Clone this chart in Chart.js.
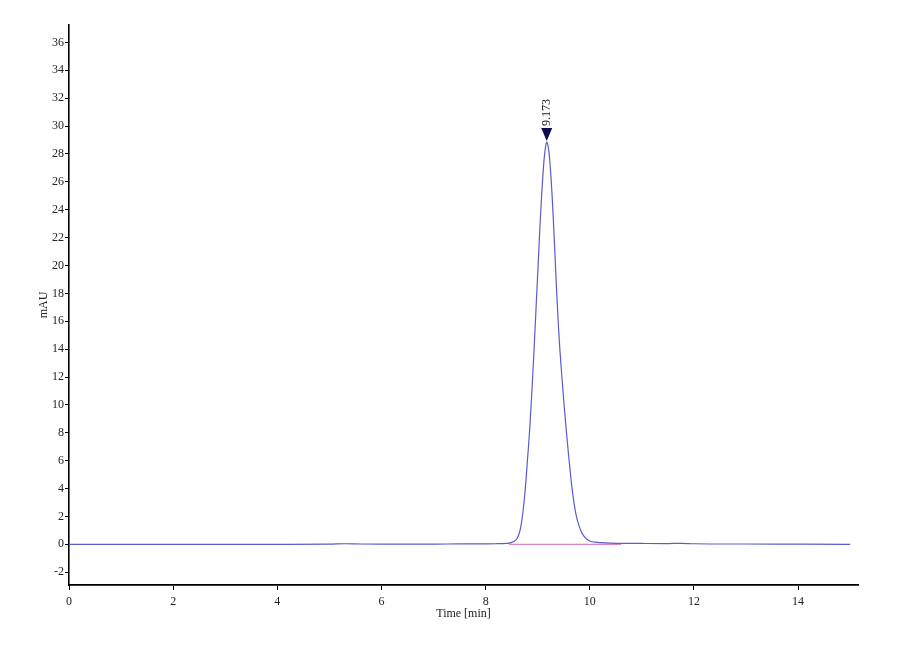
<!DOCTYPE html>
<html>
<head>
<meta charset="utf-8">
<script src="https://cdn.jsdelivr.net/npm/chart.js@4/dist/chart.umd.min.js"></script>
<style>
  html, body { margin: 0; padding: 0; background: #ffffff; }
  #wrap { width: 900px; height: 660px; position: relative; }
</style>
</head>
<body>
<div id="wrap"><canvas id="c"></canvas></div>
<script>
// Retention time (min) and signal (mAU)
const times = [0, 1, 2, 3, 4, 5, 5.3, 5.6, 6, 7, 7.5, 8, 8.2, 8.4, 8.45, 8.5, 8.55, 8.6, 8.625, 8.65, 8.675, 8.7, 8.725, 8.75, 8.775, 8.8, 8.825, 8.85, 8.875, 8.9, 8.925, 8.95, 8.975, 9.0, 9.025, 9.05, 9.075, 9.1, 9.125, 9.15, 9.173, 9.2, 9.225, 9.25, 9.275, 9.3, 9.325, 9.35, 9.375, 9.4, 9.425, 9.45, 9.475, 9.5, 9.525, 9.55, 9.575, 9.6, 9.625, 9.65, 9.675, 9.7, 9.725, 9.75, 9.775, 9.8, 9.825, 9.85, 9.875, 9.9, 9.95, 10.0, 10.05, 10.1, 10.2, 10.4, 10.7, 11.0, 11.5, 11.75, 12.0, 13.0, 14.0, 15.0];
const signal = [0, 0, 0, 0, 0, 0.01, 0.04, 0.02, 0.01, 0.01, 0.03, 0.03, 0.04, 0.07, 0.09, 0.14, 0.22, 0.40, 0.58, 0.85, 1.25, 1.85, 2.6, 3.5, 4.6, 5.9, 7.1, 8.5, 10.1, 11.8, 13.6, 15.5, 17.5, 19.4, 21.4, 23.3, 25.0, 26.5, 27.7, 28.5, 28.85, 28.55, 27.8, 26.6, 25.1, 23.3, 21.3, 19.2, 17.3, 15.5, 14.0, 12.7, 11.5, 10.3, 9.2, 8.1, 7.1, 6.1, 5.2, 4.3, 3.55, 2.9, 2.35, 1.9, 1.55, 1.25, 1.0, 0.8, 0.65, 0.53, 0.35, 0.24, 0.18, 0.15, 0.12, 0.09, 0.07, 0.06, 0.05, 0.07, 0.04, 0.02, 0.01, 0];

// Integration baseline under the peak
const baselineTimes = [8.45, 10.6];
const baselineValues = [0, 0];

// Peak annotation
const peakTimes = [9.173];
const peakValues = [28.85];
const peakLabels = ['9.173'];

// Axis ticks
const xTicks = [0, 2, 4, 6, 8, 10, 12, 14];
const yTicks = [-2, 0, 2, 4, 6, 8, 10, 12, 14, 16, 18, 20, 22, 24, 26, 28, 30, 32, 34, 36];

const traceData = times.map((t, i) => ({ x: t, y: signal[i] }));
const baseData = baselineTimes.map((t, i) => ({ x: t, y: baselineValues[i] }));

const serif = "'Liberation Serif', 'DejaVu Serif', serif";

const peakPlugin = {
  id: 'peakMarks',
  afterDatasetsDraw(chart) {
    const ctx = chart.ctx;
    const xs = chart.scales.x, ys = chart.scales.y;
    peakTimes.forEach((t, i) => {
      const px = xs.getPixelForValue(t);
      const py = ys.getPixelForValue(peakValues[i]);
      const tipY = py - 1;
      ctx.save();
      ctx.fillStyle = '#0b0b4e';
      ctx.beginPath();
      ctx.moveTo(px - 5.5, tipY - 13);
      ctx.lineTo(px + 5.5, tipY - 13);
      ctx.lineTo(px, tipY);
      ctx.closePath();
      ctx.fill();
      ctx.translate(px, tipY - 15);
      ctx.rotate(-Math.PI / 2);
      ctx.fillStyle = '#222222';
      ctx.font = "12px " + serif;
      ctx.textAlign = 'left';
      ctx.textBaseline = 'middle';
      ctx.fillText(peakLabels[i], 0, 0);
      ctx.restore();
    });
  }
};

new Chart(document.getElementById('c'), {
  type: 'line',
  data: {
    datasets: [
      {
        data: baseData,
        borderColor: '#d46cb4',
        borderWidth: 1,
        pointRadius: 0,
        tension: 0,
        order: 2
      },
      {
        data: traceData,
        borderColor: '#5b5bcf',
        borderWidth: 1.2,
        pointRadius: 0,
        cubicInterpolationMode: 'monotone',
        order: 1
      }
    ]
  },
  options: {
    responsive: true,
    maintainAspectRatio: false,
    animation: false,
    devicePixelRatio: 1,
    layout: { padding: { left: 0, right: 42, top: 25, bottom: 0 } },
    plugins: {
      legend: { display: false },
      tooltip: { enabled: false }
    },
    scales: {
      x: {
        type: 'linear',
        min: 0,
        max: 15.15,
        afterBuildTicks: (s) => { s.ticks = xTicks.map(v => ({ value: v })); },
        afterFit: (s) => { s.height = 75; },
        border: { display: true, color: '#000000', width: 1.8 },
        grid: { display: true, drawOnChartArea: false, drawTicks: true, tickLength: 5, color: '#000000', lineWidth: 1 },
        ticks: { color: '#222222', font: { family: serif, size: 12 }, padding: 5, maxRotation: 0, autoSkip: false },
        title: { display: true, text: 'Time [min]', color: '#222222', font: { family: serif, size: 12 }, padding: { top: 0, bottom: 38.8 } }
      },
      y: {
        type: 'linear',
        min: -2.92,
        max: 37.25,
        afterBuildTicks: (s) => { s.ticks = yTicks.map(v => ({ value: v })); },
        afterFit: (s) => { s.width = 69; },
        border: { display: true, color: '#000000', width: 1.6 },
        grid: { display: true, drawOnChartArea: false, drawTicks: true, tickLength: 4, color: '#000000', lineWidth: 1 },
        ticks: { color: '#222222', font: { family: serif, size: 12 }, padding: 1, autoSkip: false },
        title: { display: true, text: 'mAU', color: '#222222', font: { family: serif, size: 12 }, padding: { top: 36.8, bottom: 0 } }
      }
    }
  },
  plugins: [peakPlugin]
});
</script>
</body>
</html>
